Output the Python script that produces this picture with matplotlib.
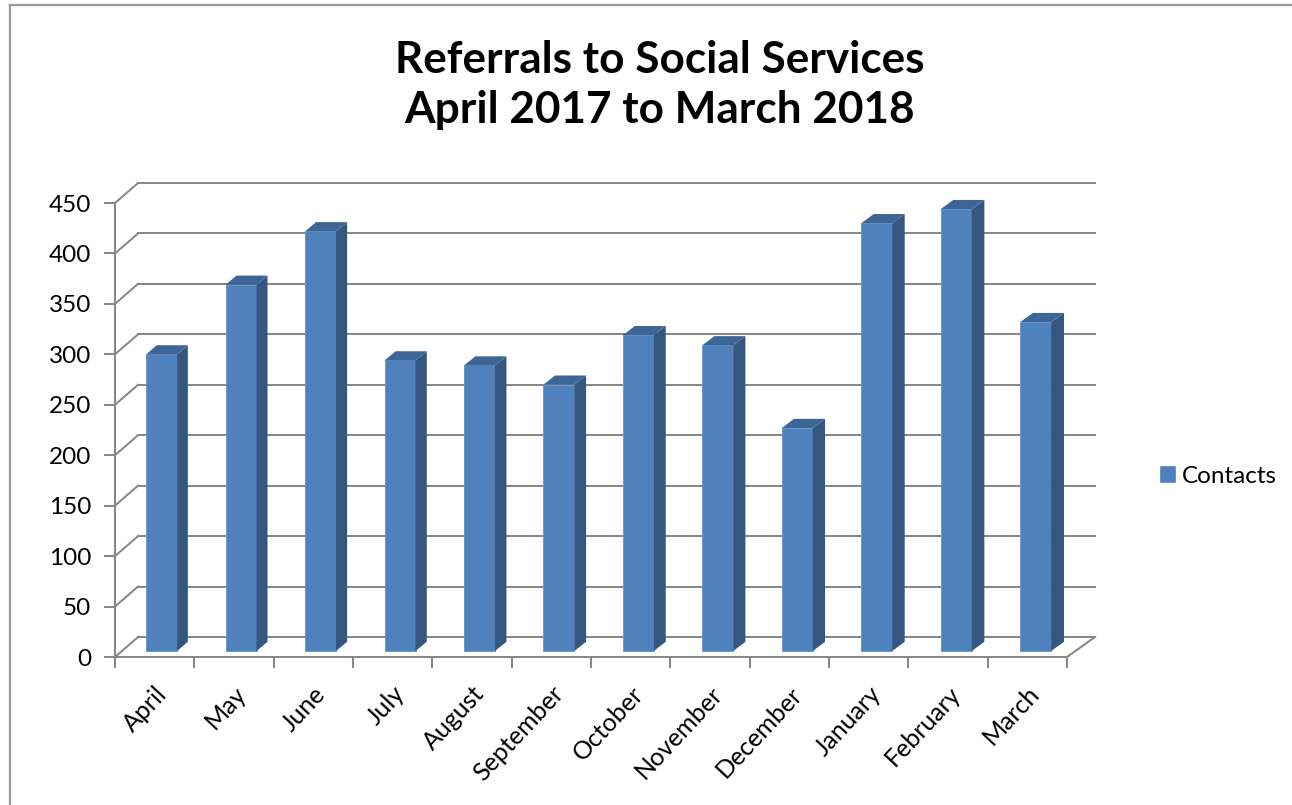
import matplotlib
matplotlib.use("Agg")
import matplotlib.pyplot as plt
from matplotlib.lines import Line2D
import numpy as np

plt.rcParams['font.family'] = ['Lato', 'DejaVu Sans']

# ---- data ----
months = ["April", "May", "June", "July", "August", "September",
          "October", "November", "December", "January", "February", "March"]
contacts = [294, 363, 416, 288, 283, 264, 313, 303, 221, 424, 438, 326]
yticks = [0, 50, 100, 150, 200, 250, 300, 350, 400, 450]
title = "Referrals to Social Services\nApril 2017 to March 2018"
series_name = "Contacts"

# ---- styling / geometry ----
W, H = 1292, 805
FRONT = '#4F81BD'
SIDE = '#34567F'
TOP = '#3D6697'
GRID = '#878787'
DX0 = 0.29      # depth shift in category units (at x=0)
KX = 0.00525    # extra depth shift per category unit (perspective)
DY = 19.8       # depth shift in value units
T0, T1 = 0.30, 0.76
BW = 0.39
GLW = 1.45

fig = plt.figure(figsize=(W / 100, H / 100), dpi=100)
ax = fig.add_axes([115 / W, (H - 657) / H, 952 / W, 454 / H])
n = len(months)
ax.set_xlim(0, n)
ax.set_ylim(0, 450)


def proj(x, v, t):
    return x + t * (DX0 + KX * x), v + t * DY


# back wall gridlines and left wall diagonals
for v in yticks:
    x0, y0 = proj(0, v, 1)
    x1, y1 = proj(n, v, 1)
    ax.plot([x0, x1], [y0, y1], color=GRID, lw=GLW, clip_on=False, zorder=1)
    xa, ya = proj(0, v, 0)
    ax.plot([xa, x0], [ya, y0], color=GRID, lw=GLW, clip_on=False, zorder=1)
# right floor diagonal
xa, ya = proj(n, 0, 0)
xb, yb = proj(n, 0, 1)
ax.plot([xa, xb], [ya, yb], color=GRID, lw=GLW, clip_on=False, zorder=1)

# bars
centers = np.arange(n) + 0.5
for i, (c, v) in enumerate(zip(centers, contacts)):
    xl, yb0 = proj(c - BW / 2, 0, T0)
    xr, _ = proj(c + BW / 2, 0, T0)
    xl1, yb1 = proj(c - BW / 2, 0, T1)
    xr1, _ = proj(c + BW / 2, 0, T1)
    ax.bar([(xl + xr) / 2], [v], width=xr - xl, bottom=yb0, color=FRONT,
           edgecolor='#6E97CC', linewidth=0.7, zorder=3, clip_on=False,
           label=series_name if i == 0 else None)
    # side face
    ax.fill([xr, xr1, xr1, xr], [yb0, yb1, yb1 + v, yb0 + v], color=SIDE,
            zorder=3, clip_on=False, lw=0)
    # top face
    ax.fill([xl, xr, xr1, xl1], [yb0 + v, yb0 + v, yb1 + v, yb1 + v],
            color=TOP, zorder=3, clip_on=False, lw=0)

# axes styling
for s in ['top', 'right']:
    ax.spines[s].set_visible(False)
for s in ['left', 'bottom']:
    ax.spines[s].set_color(GRID)
    ax.spines[s].set_linewidth(GLW)
ax.set_yticks(yticks)
ax.set_yticklabels([str(v) for v in yticks])
ax.set_xticks(np.arange(n + 1))
ax.set_xticklabels([])
ax.set_xticks(centers, minor=True)
ax.set_xticklabels(months, minor=True, rotation=47, ha='right',
                   rotation_mode='anchor')
ax.tick_params(axis='y', which='major', length=8, width=GLW, color=GRID,
               labelsize=17.5, pad=9)
ax.tick_params(axis='x', which='major', length=8, width=GLW, color=GRID)
ax.tick_params(axis='x', which='minor', length=0, labelsize=18, pad=18)
ax.patch.set_visible(False)

# title (two lines placed on their baselines)
line1, line2 = title.split("\n")
fig.text(660 / W, 1 - 73 / H, line1, ha='center', va='baseline',
         fontsize=31.8, fontweight='bold')
fig.text(660 / W, 1 - 123 / H, line2, ha='center', va='baseline',
         fontsize=31.8, fontweight='bold')

# legend
ax.legend(loc='center left', bbox_to_anchor=(1160 / W, 1 - 476 / H),
          bbox_transform=fig.transFigure, frameon=False, fontsize=17.5,
          handlelength=0.6, handleheight=0.6, handletextpad=0.32,
          borderpad=0, borderaxespad=0)

# outer frame (left and top edges visible)
fig.add_artist(Line2D([10 / W, 10 / W], [0, 1 - 5.5 / H], color='#9A9A9A',
                      lw=1.6, transform=fig.transFigure))
fig.add_artist(Line2D([10 / W, 1], [1 - 5.5 / H, 1 - 5.5 / H],
                      color='#9A9A9A', lw=1.6, transform=fig.transFigure))

fig.savefig("out.png", dpi=100)
